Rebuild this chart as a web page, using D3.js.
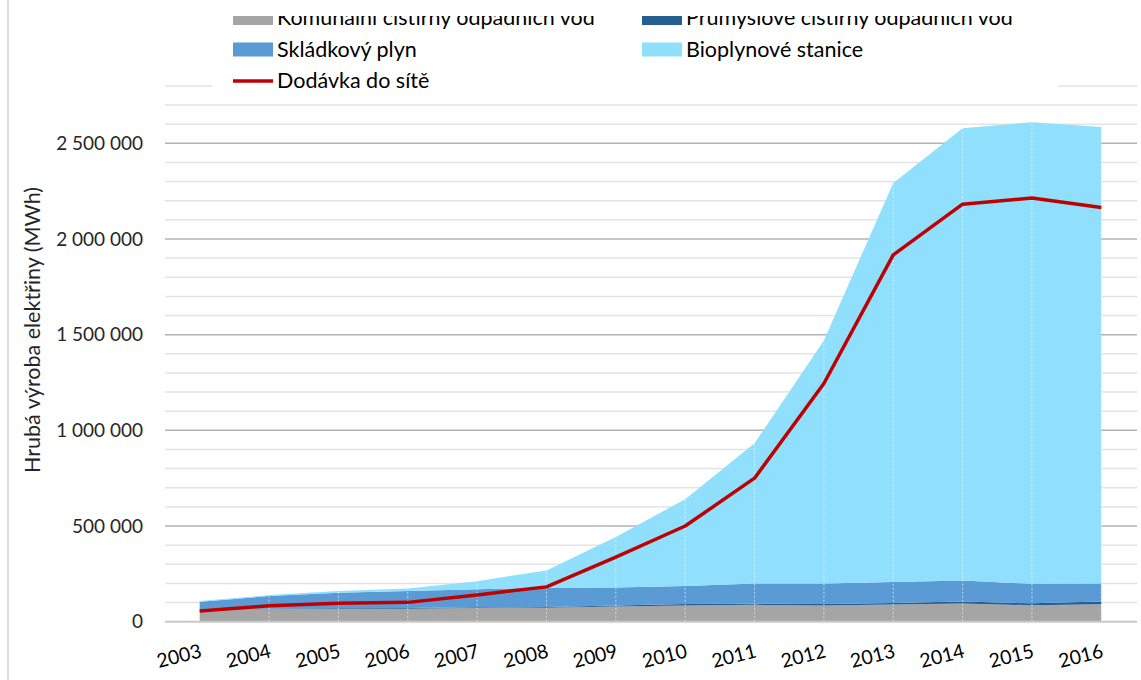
<!DOCTYPE html>
<html>
<head>
<meta charset="utf-8">
<script src="https://cdn.jsdelivr.net/npm/d3@7"></script>
<style>
  body { margin: 0; background: #fff; }
  svg { display: block; font-family: Lato, "Open Sans", sans-serif; }
</style>
</head>
<body>
<div id="chart"></div>
<script>
// roky na ose x
var years = [2003, 2004, 2005, 2006, 2007, 2008, 2009, 2010, 2011, 2012, 2013, 2014, 2015, 2016];

// hrubá výroba podle zdroje (MWh)
var komunalni  = [63000, 66000, 67000, 68000, 72000, 73000, 80000, 85000, 88000, 85000, 90000, 95000, 86000, 91000];
var prumyslove = [3000, 3000, 3000, 3000, 3000, 4000, 5000, 7000, 6000, 8000, 8000, 11000, 10000, 15000];
var skladkovy  = [38000, 65000, 81000, 89000, 95000, 100000, 94000, 94000, 106000, 107000, 110000, 109000, 102000, 94000];
var bioplyn    = [4000, 5000, 9000, 14000, 42000, 91000, 264000, 454000, 732000, 1270000, 2084000, 2364000, 2412000, 2385000];

// dodávka do sítě (MWh)
var dodavka = [56000, 83000, 96000, 101000, 140000, 182000, 338000, 500000, 750000, 1245000, 1917000, 2182000, 2214000, 2165000];

var keys = ["komunalni", "prumyslove", "skladkovy", "bioplyn"];
var names = ["Komunální čistírny odpadních vod", "Průmyslové čistírny odpadních vod", "Skládkový plyn", "Bioplynové stanice"];
var colors = ["#a5a5a5", "#255e91", "#5b9bd5", "#8fdffd"];

var yMajorTicks = [0, 500000, 1000000, 1500000, 2000000, 2500000];
var yMax = 2800000;

var width = 1141;
var height = 680;

var svg = d3.select("#chart").append("svg")
    .attr("width", width)
    .attr("height", height);

var x = d3.scalePoint()
    .domain(years)
    .range([165, 1136])
    .padding(0.5);

var y = d3.scaleLinear()
    .domain([0, yMax])
    .range([621.7, 85.9]);

var locale = d3.formatLocale({ decimal: ",", thousands: " ", grouping: [3] });
var format = locale.format(",d");

// tabulka pro d3.stack
var table = years.map(function(yr, i) {
  return {
    year: yr,
    komunalni: komunalni[i],
    prumyslove: prumyslove[i],
    skladkovy: skladkovy[i],
    bioplyn: bioplyn[i]
  };
});

var series = d3.stack().keys(keys)(table);

// mřížka
var minorTicks = d3.range(100000, yMax + 1, 100000);
svg.append("g").selectAll("line")
    .data(minorTicks)
  .enter().append("line")
    .attr("x1", 165)
    .attr("x2", 1137)
    .attr("y1", function(d) { return y(d); })
    .attr("y2", function(d) { return y(d); })
    .attr("stroke", function(d) { return d % 500000 == 0 ? "#b3b3b3" : "#e3e3e3"; })
    .attr("stroke-width", 1.5);

// plochy
var area = d3.area()
    .x(function(d) { return x(d.data.year); })
    .y0(function(d) { return y(d[0]); })
    .y1(function(d) { return y(d[1]); });

svg.append("g").selectAll("path")
    .data(series)
  .enter().append("path")
    .attr("d", area)
    .attr("fill", function(d, i) { return colors[i]; });

// svislé bílé čárky u každého roku
var topSeries = series[series.length - 1];
svg.append("g").selectAll("line")
    .data(topSeries.slice(1))
  .enter().append("line")
    .attr("x1", function(d) { return x(d.data.year); })
    .attr("x2", function(d) { return x(d.data.year); })
    .attr("y1", y(0))
    .attr("y2", function(d) { return y(d[1]); })
    .attr("stroke", "#fff")
    .attr("stroke-opacity", 0.6)
    .attr("stroke-dasharray", "2,2")
    .attr("stroke-width", 1);

// osa x
svg.append("line")
    .attr("x1", 165)
    .attr("x2", 1137)
    .attr("y1", y(0))
    .attr("y2", y(0))
    .attr("stroke", "#c8c8c8")
    .attr("stroke-width", 2);

// čára dodávky
var line = d3.line()
    .x(function(d, i) { return x(years[i]); })
    .y(function(d) { return y(d); });

svg.append("path")
    .datum(dodavka)
    .attr("d", line)
    .attr("fill", "none")
    .attr("stroke", "#c00000")
    .attr("stroke-width", 3.5)
    .attr("stroke-linejoin", "round");

// popisky osy y
svg.append("g").selectAll("text")
    .data(yMajorTicks)
  .enter().append("text")
    .attr("x", 143)
    .attr("y", function(d) { return y(d); })
    .attr("dy", "0.35em")
    .attr("text-anchor", "end")
    .attr("font-size", 19)
    .attr("fill", "#262626")
    .text(function(d) { return format(d); });

// popisky osy x
svg.append("g").selectAll("text")
    .data(years)
  .enter().append("text")
    .attr("transform", function(d) { return "translate(" + (x(d) + 3) + ",657) rotate(-14)"; })
    .attr("text-anchor", "end")
    .attr("font-size", 19.5)
    .attr("fill", "#000")
    .text(function(d) { return d; });

svg.append("text")
    .attr("transform", "translate(40,330) rotate(-90)")
    .attr("text-anchor", "middle")
    .attr("font-size", 21.5)
    .attr("fill", "#262626")
    .text("Hrubá výroba elektřiny (MWh)");

// legenda
svg.append("rect")
    .attr("x", 212)
    .attr("y", 0)
    .attr("width", 846)
    .attr("height", 94)
    .attr("fill", "#fff");

var legendItems = [
  { name: names[0], color: colors[0], col: 0, row: 0, type: "box" },
  { name: names[1], color: colors[1], col: 1, row: 0, type: "box" },
  { name: names[2], color: colors[2], col: 0, row: 1, type: "box" },
  { name: names[3], color: colors[3], col: 1, row: 1, type: "box" },
  { name: "Dodávka do sítě", color: "#c00000", col: 0, row: 2, type: "line" }
];
var colX = [233, 642];

var legend = svg.append("g").selectAll("g")
    .data(legendItems)
  .enter().append("g")
    .attr("transform", function(d) { return "translate(" + colX[d.col] + "," + (18 + d.row * 31.5) + ")"; });

legend.filter(function(d) { return d.type == "box"; })
  .append("rect")
    .attr("x", 0)
    .attr("y", -7)
    .attr("width", 40)
    .attr("height", 14)
    .attr("fill", function(d) { return d.color; });

legend.filter(function(d) { return d.type == "line"; })
  .append("line")
    .attr("x1", 0)
    .attr("x2", 40)
    .attr("stroke", function(d) { return d.color; })
    .attr("stroke-width", 3.5);

legend.append("text")
    .attr("x", 44)
    .attr("y", 7)
    .attr("font-size", 21.5)
    .attr("fill", "#000")
    .text(function(d) { return d.name; });

// horní okraj obrázku je oříznutý
svg.append("rect")
    .attr("x", 9)
    .attr("y", 0)
    .attr("width", width)
    .attr("height", 16)
    .attr("fill", "#fff");

// levý rámeček
svg.append("line")
    .attr("x1", 8)
    .attr("x2", 8)
    .attr("y1", 0)
    .attr("y2", height)
    .attr("stroke", "#d0d0d0")
    .attr("stroke-width", 1.5);
</script>
</body>
</html>
